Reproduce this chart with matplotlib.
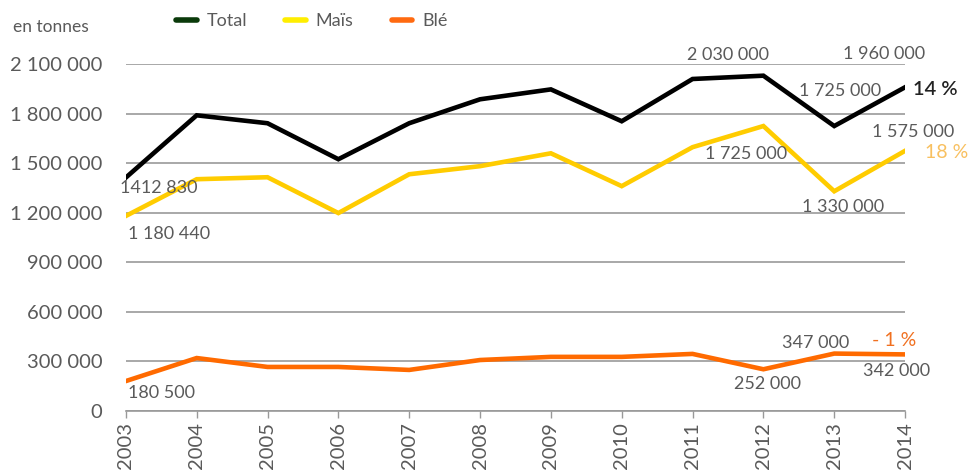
import matplotlib
matplotlib.use("Agg")
from matplotlib import pyplot as plt
from matplotlib.lines import Line2D

# donnees (en tonnes)
annees = [2003, 2004, 2005, 2006, 2007, 2008, 2009, 2010, 2011, 2012, 2013, 2014]
total = [1412830, 1790000, 1742000, 1524000, 1742000, 1887000, 1947000, 1754000, 2010000, 2030000, 1725000, 1960000]
mais = [1180440, 1403000, 1415000, 1198000, 1433000, 1482000, 1560000, 1361000, 1597000, 1725000, 1330000, 1575000]
ble = [180500, 320000, 266000, 266000, 248000, 308000, 327000, 327000, 345000, 252000, 347000, 342000]

yticks = [0, 300000, 600000, 900000, 1200000, 1500000, 1800000, 2100000]

def fmt(v):
    return "{:,}".format(v).replace(",", " ")

plt.rcParams['font.family'] = ['Lato', 'DejaVu Sans']
gris = "#5a5a5a"

fig = plt.figure(figsize=(9.68, 4.75), dpi=100)
ax = fig.add_axes([0.130, 0.135, 0.805, 0.730])

c_total = "#000000"
c_mais = "#ffcc00"
c_ble = "#ff6a00"

ax.plot(annees, total, color=c_total, lw=3.3, solid_joinstyle="miter", zorder=3)
ax.plot(annees, mais, color=c_mais, lw=3.3, solid_joinstyle="miter", zorder=3)
ax.plot(annees, ble, color=c_ble, lw=3.3, solid_joinstyle="miter", zorder=3)

ax.set_xlim(2003, 2014)
ax.set_ylim(0, 2100000)
ax.set_yticks(yticks)
ax.set_yticklabels([fmt(v) for v in yticks], fontsize=14.5, color=gris)
ax.set_xticks(annees)
ax.set_xticklabels([str(a) for a in annees], rotation=90, fontsize=14.5, color=gris)
ax.tick_params(axis="y", length=0, pad=17)
ax.tick_params(axis="x", length=5, width=1, color="#999999", pad=3)
ax.grid(axis="y", color="#999999", lw=1.2)
ax.set_axisbelow(True)
for s in ["top", "right", "left"]:
    ax.spines[s].set_visible(False)
ax.spines["bottom"].set_color("#999999")
ax.spines["bottom"].set_linewidth(1.2)

# etiquettes de valeurs (offsets en pixels -> points)
def lab(x, y, txt, dx, dy, ha="center", color=gris, size=13, weight="normal"):
    ax.annotate(txt, xy=(x, y), xytext=(dx * 0.72, dy * 0.72), textcoords="offset points",
                ha=ha, va="center", fontsize=size, color=color, fontweight=weight,
                annotation_clip=False)

lab(2003, total[0], "1412 830", -6, -10, ha="left")
lab(2003, mais[0], fmt(mais[0]), 2, -18, ha="left")
lab(2012, total[9], fmt(total[9]), -35, 21)
lab(2014, total[11], fmt(total[11]), -21, 33)
lab(2013, total[10], fmt(total[10]), 6, 35)
lab(2014, mais[11], fmt(mais[11]), 8, 19)
lab(2012, mais[9], fmt(mais[9]), -17, -28)
lab(2013, mais[10], fmt(mais[10]), 9, -16)
lab(2003, ble[0], fmt(ble[0]), 2, -12, ha="left")
lab(2013, ble[10], fmt(ble[10]), -19, 11)
lab(2012, ble[9], fmt(ble[9]), 4, -15)
lab(2014, ble[11], fmt(ble[11]), -9, -17)

lab(2014, total[11], "14 %", 8, -2, ha="left", color="#222222", size=14.5, weight="semibold")
lab(2014, mais[11], "18 %", 20, -2, ha="left", color="#f8c060", size=14)
lab(2014, ble[11], "- 1 %", -11, 14, color="#f07020", size=14)

fig.text(0.013, 0.943, "en tonnes", fontsize=12.5, color=gris, va="center")

handles = [Line2D([], [], color="#0a3a0a", lw=4, solid_capstyle="round"),
           Line2D([], [], color="#ffee00", lw=4, solid_capstyle="round"),
           Line2D([], [], color="#ff6a10", lw=4, solid_capstyle="round")]
leg = fig.legend(handles, ["Total", "Maïs", "Blé"], loc="center", bbox_to_anchor=(0.322, 0.956),
                 ncol=3, frameon=False, fontsize=13, handlelength=1.15, handletextpad=0.55,
                 columnspacing=2.1)
for t in leg.get_texts():
    t.set_color(gris)

plt.savefig("out.png", dpi=100)
